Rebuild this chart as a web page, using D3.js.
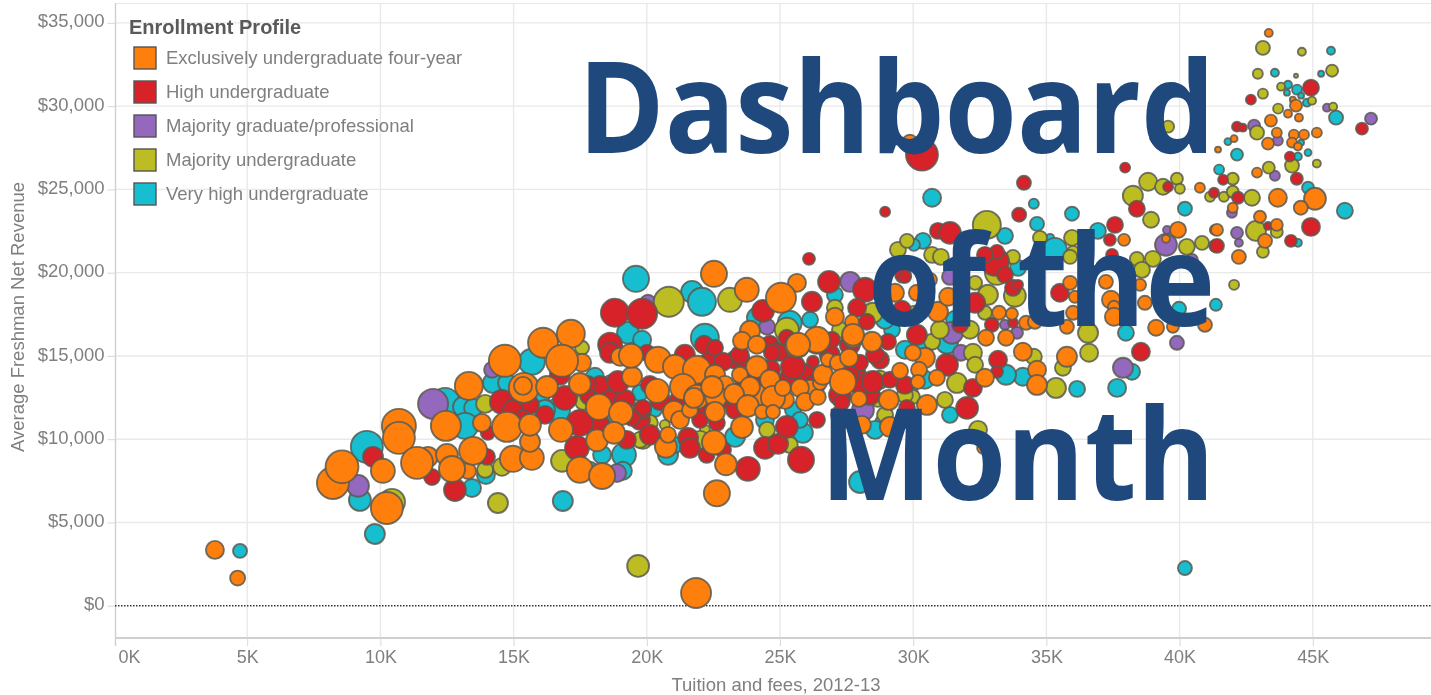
<!DOCTYPE html>
<html><head><meta charset="utf-8">
<script src="https://cdnjs.cloudflare.com/ajax/libs/d3/7.8.5/d3.min.js"></script>
<style>html,body{margin:0;background:#fff;overflow:hidden}svg{display:block}text{font-family:"Liberation Sans",Arial,sans-serif}</style>
</head><body><svg id="c" width="1431" height="695"><defs><filter id="soft" x="0" y="0" width="100%" height="100%"><feGaussianBlur stdDeviation="0.6"/></filter></defs></svg>
<script>
// Tuition ($K), net revenue ($K), enrollment (K)
const categories = ["Exclusively undergraduate four-year","High undergraduate","Majority graduate/professional","Majority undergraduate","Very high undergraduate"];
const colors = ["#FF7F0E","#D8202A","#9467BD","#BCBD22","#17BECF"];
const xTicks = [0,5,10,15,20,25,30,35,40,45];
const yTicks = [0,5,10,15,20,25,30,35];
const overlayLines = ["Dashboard","of the","Month"];
const veryHigh = [[4.72,3.29,4.9],[9.77,4.31,10],[9.47,9.54,25.6],[9.21,6.35,12],[13.93,7.85,8.1],[13.41,7.07,8.1],[16.81,6.29,10],[12.4,12.18,22.5],[13.07,11.94,10],[13.45,11.88,8.1],[13.15,10.8,17],[14.19,13.38,10],[14.72,13.38,8.1],[15.65,14.65,17],[18.01,13.75,8.1],[16.63,11.76,14.4],[18.28,9.06,8.1],[19.1,9.06,14.4],[19.06,8.1,8.1],[20.75,9.06,10],[19.7,12.78,6.4],[20.26,11.76,4.9],[19.55,19.63,17],[21.65,18.85,12],[22.02,18.25,19.6],[19.25,16.39,12],[19.78,15.97,8.1],[22.13,16.09,19.6],[24.08,17.29,10],[25.31,16.99,14.4],[25.8,10.38,10],[25.43,11.76,6.4],[23.26,10.14,10],[27.94,7.43,12],[28.8,10.98,6.4],[29.81,12.78,6.4],[29.14,16.57,6.4],[31.2,15.79,12],[30.64,24.5,8.1],[34.45,24.14,2.5],[35.88,23.54,4.9],[34.57,22.93,4.9],[33.37,22.21,6.4],[30.3,21.91,6.4],[29.96,21.67,3.6],[33.86,20.29,6.4],[35.06,22.09,1.6],[35.24,21.37,14.4],[36.85,22.51,6.4],[40.11,23.84,4.9],[39.89,17.83,4.9],[41.27,18.07,3.6],[37.9,16.39,6.4],[38.13,14.05,6.4],[37.57,13.08,8.1],[36.07,13.02,6.4],[34.04,13.75,8.1],[33.41,13.87,10],[40.11,2.26,4.9],[45.58,33.33,1.6],[43.48,32.01,1.6],[45.21,31.95,.9],[43.97,31.29,1.6],[43.93,30.81,.9],[44.31,30.99,2.5],[44.46,30.63,.9],[44.68,30.21,1.6],[45.77,29.31,4.9],[44.46,27.81,.9],[41.72,27.87,1.2],[42.06,27.09,3.6],[44.72,27.21,1.2],[44.34,26.97,1.6],[41.39,26.19,2.5],[44.72,25.1,3.6],[46.1,23.72,6.4],[44.34,21.79,1.6],[15.95,12.66,10],[16.14,11.76,10],[18.58,11.16,8.1],[17.83,8.16,6.4],[21.01,9.66,6.4],[24.38,11.16,8.1],[25.69,11.16,6.4],[28.5,10.56,8.1],[29.62,15.37,8.1],[30.37,15.67,8.1],[31.5,17.17,8.1],[28.87,17.17,8.1],[30.37,13.57,8.1],[31.31,11.46,6.4],[27,18.67,6.4],[26.07,17.17,6.4]];
const graduate = [[9.14,7.2,12],[11.95,12.12,22.5],[14.16,14.17,6.4],[18.84,7.97,8.1],[18.65,13.14,14.4],[20,18.19,6.4],[24.46,16.75,6.4],[27.57,19.45,10],[28.05,11.76,12],[31.39,16.39,12],[31.72,15.19,6.4],[31.31,19.75,6.4],[33.82,16.39,3.6],[33.37,16.87,2.5],[39.81,15.79,4.9],[37.79,14.29,10],[39.44,22.57,1.6],[39.4,21.67,12],[40.37,20.77,3.6],[45.43,29.91,1.6],[47.08,29.25,3.6],[42.7,28.83,3.6],[43.59,27.93,2.5],[43.48,25.82,2.5],[41.87,23.6,2.5],[42.06,22.39,3.6],[42.13,21.79,1.6]];
const majority = [[19.63,2.39,12],[10.41,6.23,17],[14.38,6.17,10],[13.9,8.16,6.4],[14.53,8.34,8.1],[13.9,12.12,8.1],[17.53,15.49,4.9],[17.57,12.24,6.4],[16.78,8.7,12],[19.81,9.96,8.1],[20.07,10.98,6.4],[22.13,10.56,2.5],[20.63,10.86,2.5],[20.78,18.25,22.5],[23.07,18.37,14.4],[25.2,16.57,14.4],[24.46,10.56,6.4],[25.31,9.66,6.4],[27,17.89,6.4],[28.42,17.59,10],[30.64,15.85,6.4],[32.17,15.19,8.1],[31.57,13.38,10],[28.61,12.36,4.9],[28.88,11.46,6.4],[29.92,12.54,4.9],[32.36,10.56,8.1],[34.45,14.95,6.4],[35.28,13.08,10],[35.54,14.29,6.4],[36.52,15.19,8.1],[36.48,16.39,10],[29.36,21.37,6.4],[29.7,21.91,4.9],[30.64,21.07,6.4],[30.97,20.95,6.4],[32.69,22.87,19.6],[33.67,20.95,4.9],[33.07,19.99,14.4],[34.68,22.09,4.9],[35.88,22.09,6.4],[35.92,21.25,3.6],[35.81,20.95,4.9],[38.31,20.83,4.9],[38.91,20.83,6.4],[38.5,20.17,6.4],[38.73,25.46,8.1],[39.81,25.64,3.6],[39.29,25.16,6.4],[39.92,25.04,2.5],[41.05,24.56,2.5],[38.16,24.62,10],[38.84,23.18,6.4],[40.18,21.55,6.4],[40.75,21.79,4.9],[32.62,17.59,4.9],[32.73,18.67,10],[33.74,18.61,12],[32.25,19.39,4.9],[43.03,33.5,4.9],[44.49,33.27,1.6],[42.84,31.95,2.5],[44.27,31.83,.4],[45.62,32.13,3.6],[43.71,31.17,1.6],[44.87,30.33,1.6],[43.03,30.75,2.5],[43.6,29.85,2.5],[45.66,29.97,1.6],[42.81,28.41,4.9],[45.05,26.55,1.6],[44.12,26.43,4.9],[43.25,26.31,3.6],[41.9,25.64,3.6],[41.57,24.56,2.5],[41.9,24.86,3.6],[42.62,24.5,6.4],[43.55,22.45,3.6],[42.77,22.51,10],[43.03,21.25,3.6],[41.95,19.27,2.5],[39.48,28.77,3.6],[39.1,28.17,6.4],[19.7,9.96,6.4],[21.95,9.96,8.1],[28.69,13.57,8.1],[32.06,16.57,8.1],[30,17.47,8.1],[30.93,16.57,8.1],[32.25,14.47,6.4],[29.62,12.66,6.4],[31.12,12.36,6.4],[27.19,16.57,6.4]];
const high = [[16.7,13.87,10],[17.83,12.66,10],[18.58,12.36,10],[19.7,11.16,10],[20.45,12.36,10],[21.2,12.36,10],[21.95,13.26,12],[22.7,12.36,10],[23.26,11.76,8.1],[21.95,12.06,10],[23.63,13.57,10],[24.19,13.26,12],[25.32,13.57,12],[25.88,13.87,12],[26.25,13.26,10],[27.19,12.66,12],[27.75,13.87,12],[28.31,12.66,10],[27.56,15.67,10],[26.81,15.07,10],[24.57,14.17,10],[23.26,14.77,8.1],[22.32,14.77,8.1],[21.38,15.07,10],[28.69,14.77,8.1],[29.62,13.26,8.1],[27.19,11.46,8.1],[27.94,13.26,10],[25.69,15.67,10],[24.57,15.67,8.1],[20.07,13.26,8.1],[19.14,12.36,10],[18.2,10.86,10],[18.2,13.26,8.1],[15.58,12.06,8.1],[16.14,11.46,8.1],[9.7,8.94,10],[11.91,7.73,6.4],[12.77,6.95,12],[13.97,8.94,6.4],[14.53,12.24,14.4],[14.94,11.76,10],[14,10.38,4.9],[15.32,11.34,4.9],[17.75,13.32,6.4],[16.89,12.48,14.4],[17.45,10.98,17],[17.34,9.48,14.4],[19.21,9.96,8.1],[20.07,10.26,10],[21.5,10.08,10],[21.57,9.48,10],[18.88,13.44,12],[19.78,11.76,8.1],[18.76,17.59,19.6],[19.78,17.53,22.5],[18.58,15.67,14.4],[18.58,15.19,10],[19.96,15.19,6.4],[24.31,17.71,12],[26.03,20.83,3.6],[26.14,18.25,10],[22.1,15.67,8.1],[22.51,15.49,6.4],[25.2,16.09,6.4],[24.83,15.25,8.1],[22.81,14.65,8.1],[23.52,14.77,6.4],[23.44,15.07,8.1],[25.43,14.35,14.4],[26.18,14.65,3.6],[27.94,14.59,6.4],[28.42,13.44,12],[28.5,15.07,8.1],[27.57,13.87,8.1],[29.06,13.57,6.4],[27.26,12.24,6.4],[28.99,15.85,6.4],[26.89,15.97,6.4],[24.94,15.19,6.4],[24.64,15.19,6.4],[19.81,11.88,6.4],[22.2,9.06,6.4],[22.81,9.36,6.4],[21.95,11.16,6.4],[22.58,10.98,6.4],[19.4,11.28,6.4],[23.74,8.22,14.4],[25.73,8.76,17],[24.38,9.48,12],[24.87,9.72,10],[25.2,10.74,12],[26.33,11.16,6.4],[26.78,19.45,12],[28.13,18.97,14.4],[27.83,17.89,8.1],[28.2,17.05,6.4],[29.55,19.87,6.4],[29.51,17.77,8.1],[30.07,16.27,10],[31.2,14.47,12],[32.17,13.08,8.1],[31.95,11.88,12],[29.7,11.88,6.4],[33.11,14.77,8.1],[33.07,14.05,3.6],[30.26,27.09,25.6],[28.88,23.66,2.5],[34.08,25.4,4.9],[33.9,23.48,4.9],[30.86,22.51,6.4],[31.31,22.39,12],[33,20.65,19.6],[33.07,21.25,4.9],[32.62,21.07,6.4],[33.37,19.87,6.4],[37.49,22.87,6.4],[37.3,21.97,3.6],[37.38,21.07,3.6],[39.48,25.16,2.5],[41.2,24.8,2.5],[38.31,23.84,6.4],[41.24,21.61,3.6],[33.67,19.09,6.4],[33.86,19.27,2.5],[32.88,16.87,4.9],[33.67,16.99,2.5],[32.25,18.19,10],[31.69,16.87,6.4],[29.63,19.75,3.6],[35.43,18.79,8.1],[38.46,15.25,8.1],[44.83,31.11,6.4],[42.58,30.39,2.5],[42.06,28.77,2.5],[42.28,28.71,1.6],[46.74,28.65,3.6],[44.04,26.97,2.5],[44.3,25.64,3.6],[37.87,26.31,2.5],[41.54,25.58,2.5],[42.1,24.5,3.6],[43.22,22.81,1.6],[44.83,22.75,8.1],[44.08,21.91,3.6],[41.31,21.61,4.9]];
const exclusive = [[3.78,3.35,8.1],[4.63,1.66,5.6],[21.8,.76,22.5],[8.2,7.37,25.6],[8.54,8.34,27],[10.07,8.1,14.4],[10.22,5.87,25.6],[10.67,10.8,29],[10.67,10.08,25.6],[11.76,8.94,10],[11.35,8.58,25.6],[12.47,9.06,12],[13.26,8.09,6.4],[12.66,8.21,17],[13.45,9.3,19.6],[14.94,8.82,17],[15.65,8.88,14.4],[15.58,9.84,10],[13.29,13.2,19.6],[12.43,10.8,22.5],[13.78,10.98,8.1],[14.72,10.74,22.5],[15.58,10.86,12],[14.64,14.71,25.6],[15.35,13.08,22.5],[15.32,13.2,8.1],[16.22,13.14,12],[16.07,15.79,22.5],[17.11,16.33,19.6],[17.53,14.59,8.1],[16.78,14.71,25.6],[17.45,13.32,12],[18.16,11.94,17],[16.74,10.56,14.4],[18.99,11.58,14.4],[18.09,9.93,12],[18.73,10.38,12],[17.45,8.16,17],[18.28,7.79,17],[20.67,9.54,12],[20.75,10.26,6.4],[19.4,13.75,10],[20.34,12.9,14.4],[20.97,11.64,12],[21.2,11.16,8.1],[18.95,14.95,8.1],[19.36,15.01,14.4],[20.37,14.77,17],[21.01,14.35,14.4],[21.83,14.17,19.6],[21.31,13.14,17],[21.83,12.54,14.4],[22.47,19.93,17],[23.7,18.97,14.4],[25.58,19.39,8.1],[24.98,18.49,22.5],[23.82,16.51,10],[23.52,15.91,8.1],[24.08,15.67,8.1],[25.58,15.61,14.4],[26.33,15.85,14.4],[22.51,13.87,10],[23.63,12.66,12],[24.19,12.66,10],[22.88,13.26,8.1],[25.13,12.36,8.1],[26.07,13.08,6.4],[21.57,11.76,6.4],[21.72,12.48,10],[22.55,12.54,12],[22.51,11.64,10],[22.4,13.14,12],[22.92,8.49,12],[22.58,6.75,17],[22.47,9.81,14.4],[23.52,10.72,12],[24.08,14.34,12],[23.44,13.87,6.4],[24.57,13.57,10],[23.82,13.14,10],[23.22,12.72,10],[23.74,12,12],[24.68,12.48,14.4],[25.05,13.08,6.4],[24.27,11.64,4.9],[24.68,11.64,4.9],[25.69,13.08,8.1],[25.88,12.24,8.1],[26.36,12.54,6.4],[26.44,13.38,4.9],[26.55,13.87,10],[26.74,14.77,4.9],[27.11,14.59,6.4],[27.53,14.89,8.1],[27.3,13.44,17],[27.9,12.42,6.4],[29.02,12.36,10],[28.01,10.86,8.1],[29.06,10.74,10],[27.68,16.15,12],[28.39,15.85,10],[27,17.35,8.1],[27.64,17.05,4.9],[26.33,15.97,17],[25.62,15.67,14.4],[27.68,16.27,12],[29.25,18.79,8.1],[30.86,17.65,10],[31.24,18.55,8.1],[30.37,14.89,10],[29.92,15.19,6.4],[29.44,14.11,6.4],[30.15,14.17,6.4],[30.82,13.69,6.4],[30.11,13.44,4.9],[32.62,13.69,8.1],[34.04,15.25,8.1],[34.57,14.17,8.1],[34.57,13.26,10],[35.69,14.95,10],[32.55,9.48,3.6],[30.45,12.06,10],[37.15,19.45,4.9],[38.43,19.27,3.6],[37.34,18.37,8.1],[38.61,18.19,4.9],[37.45,17.95,3.6],[37.45,17.35,8.1],[39.03,16.69,6.4],[39.66,16.75,3.6],[40.86,16.87,4.9],[35.81,19.39,4.9],[35.99,18.55,3.6],[35.69,16.75,4.9],[35.92,17.59,4.9],[33.15,17.59,4.9],[33.63,17.53,3.6],[34.16,16.99,4.9],[34.49,17.05,4.9],[32.66,16.09,6.4],[33.41,16.09,6.4],[30.07,18.79,6.4],[30.56,19.57,4.9],[40.67,25.1,2.5],[39.85,22.57,6.4],[39.4,22.03,1.6],[41.23,22.57,2.5],[37.83,21.97,3.6],[43.25,34.4,1.6],[44.15,30.39,.9],[44.27,30.03,3.6],[43.97,29.55,1.6],[44.38,29.31,1.6],[43.33,29.13,3.6],[43.55,28.41,2.5],[43.22,27.75,3.6],[44.19,28.29,2.5],[44.57,28.29,2.5],[45.05,28.41,2.5],[44.12,27.81,2.5],[44.34,27.57,1.6],[41.95,28.05,1.2],[41.35,27.39,.9],[42.81,26.01,2.5],[43.59,24.5,8.1],[44.98,24.44,12],[44.45,23.9,4.9],[41.9,23.9,2.5],[42.92,23.36,3.6],[43.55,22.87,3.6],[43.11,21.91,4.9],[41.31,22.57,3.6],[42.13,20.95,4.9],[29.81,27.8,6.4]];
const layers = [[4,veryHigh],[2,graduate],[3,majority],[1,high],[0,exclusive]];

const svg = d3.select("#c");
const chart = svg.append("g").attr("filter","url(#soft)");
const x = d3.scaleLinear().domain([0,50]).range([114,1446]);
const markX = v => x(v*1.00225); // tuition values were read on a 26.7 px/K grid, the axis is 26.64 px/K
const y = d3.scaleLinear().domain([0,35]).range([605.7,22.9]);
const r = d3.scaleSqrt().domain([0,40]).range([0,20]);
const GREY = "#7f7f7f";

// gridlines
chart.append("g").selectAll("line").data(xTicks.filter(d=>d>0)).join("line")
  .attr("x1",x).attr("x2",x).attr("y1",3).attr("y2",638).attr("stroke","#e9e9e9").attr("stroke-width",1.4);
chart.append("g").selectAll("line").data(yTicks.filter(d=>d>0)).join("line")
  .attr("x1",115).attr("x2",1431).attr("y1",y).attr("y2",y).attr("stroke","#e9e9e9").attr("stroke-width",1.4);
chart.append("line").attr("x1",115).attr("x2",1431).attr("y1",3).attr("y2",3).attr("stroke","#e0e0e0").attr("stroke-width",1.6);

// axes
const xAxis = d3.axisBottom(x).tickValues(xTicks).tickFormat(d=>d+"K").tickSize(8).tickPadding(4);
const gx = chart.append("g").attr("transform","translate(0,638)").call(xAxis);
gx.select(".domain").attr("d","M115.5,0H1431").attr("stroke","#cfcfcf").attr("stroke-width",1.8);
gx.selectAll(".tick line").attr("stroke","#d8d8d8");
gx.selectAll(".tick").filter(d=>d===0).select("line").remove();
gx.selectAll(".tick text").attr("fill",GREY).style("font-size","18px").attr("dx",d=>d===0?15:0);
const yAxis = d3.axisLeft(y).tickValues(yTicks).tickFormat(d=>d===0?"$0":"$"+d+",000").tickSize(8).tickPadding(4);
const gy = chart.append("g").attr("transform","translate(115.5,0)").call(yAxis);
gy.select(".domain").attr("d","M0,3V646").attr("stroke","#cfcfcf").attr("stroke-width",1.4);
gy.selectAll(".tick line").attr("stroke","#d8d8d8");
gy.selectAll(".tick text").attr("fill",GREY).attr("dx",1).attr("dy","0.22em").style("font-size","18.5px");

chart.append("text").attr("x",776).attr("y",691).attr("text-anchor","middle").attr("fill",GREY).style("font-size","18.5px").text("Tuition and fees, 2012-13");
chart.append("text").attr("transform","translate(24,317) rotate(-90)").attr("text-anchor","middle").attr("fill",GREY).style("font-size","18.5px").text("Average Freshman Net Revenue");

// zero line
chart.append("line").attr("x1",115).attr("x2",1431).attr("y1",y(0)).attr("y2",y(0)).attr("stroke","#333").attr("stroke-width",1.5).attr("stroke-dasharray","1.5 1.5");

// marks
layers.forEach(([c,rows])=>{
  chart.append("g").selectAll("circle").data(rows).join("circle")
    .attr("cx",d=>markX(d[0])).attr("cy",d=>y(d[1])).attr("r",d=>r(d[2]))
    .attr("fill",colors[c]).attr("stroke","#5b5b50").attr("stroke-opacity",.85).attr("stroke-width",1.9);
});

// legend
chart.append("text").attr("x",129).attr("y",34).attr("fill","#5a5a5a").style("font-size","20px").style("font-weight","bold").text("Enrollment Profile");
const lg = chart.append("g").selectAll("g").data(categories).join("g");
lg.append("rect").attr("x",134).attr("y",(d,i)=>47+34*i).attr("width",22).attr("height",22)
  .attr("fill",(d,i)=>colors[i]).attr("stroke","#555").attr("stroke-width",1.4);
lg.append("text").attr("x",166).attr("y",(d,i)=>64+34*i).attr("fill",GREY).style("font-size","18.5px").text(d=>d);

// overlay title
const oX = [578,868,820], oW = [637,347,395], oY = [153,326,500];
svg.append("g").selectAll("text").data(overlayLines).join("text")
  .attr("x",(d,i)=>oX[i]).attr("y",(d,i)=>oY[i]).attr("textLength",(d,i)=>oW[i]).attr("lengthAdjust","spacingAndGlyphs")
  .style("font-family","'Open Sans',sans-serif").style("font-weight","700").style("font-size","127px")
  .attr("fill","#1F497D").text(d=>d);
</script></body></html>
